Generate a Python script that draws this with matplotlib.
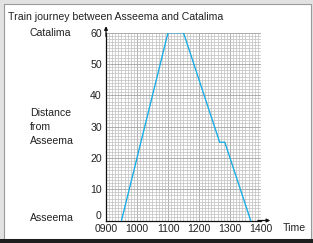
import matplotlib
matplotlib.use("Agg")
import matplotlib.pyplot as plt
import numpy as np
from matplotlib.patches import Rectangle

plt.rcParams['font.family'] = ['Liberation Sans', 'DejaVu Sans']

# Data (time in decimal hours, distance in km from Asseema)
times = [9.5, 11.0, 11.5, 12 + 40/60, 12 + 50/60, 13 + 40/60]
distance = [0, 60, 60, 25, 25, 0]
x_ticks = [9, 10, 11, 12, 13, 14]
x_labels = ["0900", "1000", "1100", "1200", "1300", "1400"]
y_ticks = [0, 10, 20, 30, 40, 50, 60]

W, H = 313, 243
FS = 7.6
fig = plt.figure(figsize=(W/100, H/100), dpi=100)
fig.patch.set_facecolor('#e2e2e2')

def px(x0, y0, w, h):
    return (x0/W, 1 - (y0+h)/H, w/W, h/H)

# white panel
x0, y0, w, h = px(3.5, 4.5, 307, 234)
fig.patches.append(Rectangle((x0, y0), w, h, transform=fig.transFigure,
                             facecolor='white', edgecolor='#9a9a9a', linewidth=0.8, zorder=-5))
# dark bottom bar
x0, y0, w, h = px(0, 239, 313, 4)
fig.patches.append(Rectangle((x0, y0), w, h, transform=fig.transFigure,
                             facecolor='#1e1e1e', edgecolor='none', zorder=-5))

ax = fig.add_axes(px(106, 32.7, 155, 187.8))
ax.set_zorder(5)
ax.set_xlim(9, 14)
ax.set_ylim(0, 60)
ax.set_facecolor('white')

ax.set_xticks(x_ticks)
ax.set_xticklabels(x_labels)
ax.set_yticks(y_ticks)
ax.set_xticks(np.arange(9, 14.001, 0.1), minor=True)
ax.set_yticks(np.arange(0, 60.001, 1), minor=True)
ax.grid(which='minor', color='#c3c3c3', linewidth=0.55)
ax.grid(which='major', color='#a8a8a8', linewidth=0.65)
ax.set_axisbelow(True)
ax.tick_params(which='both', length=0)
ax.tick_params(axis='x', labelsize=FS, pad=2.5, colors='#222222')
ax.tick_params(axis='y', labelsize=FS, pad=3, colors='#222222')
ax.get_yticklabels()[0].set_va('bottom')

for s in ['top', 'right']:
    ax.spines[s].set_visible(False)
for s in ['left', 'bottom']:
    ax.spines[s].set_color('#111111')
    ax.spines[s].set_linewidth(0.9)

ax.plot(times, distance, color='#1aaee6', linewidth=1.0, zorder=3)

# arrows on axes
ax.annotate('', xy=(1.06, 0), xytext=(0.98, 0), xycoords='axes fraction',
            arrowprops=dict(arrowstyle='-|>', color='#111111', lw=0.9,
                            mutation_scale=5, shrinkA=0, shrinkB=0), annotation_clip=False)
ax.annotate('', xy=(0, 1.035), xytext=(0, 0.98), xycoords='axes fraction',
            arrowprops=dict(arrowstyle='-|>', color='#111111', lw=0.9,
                            mutation_scale=5, shrinkA=0, shrinkB=0), annotation_clip=False)

def ftext(xp, yp, s, **kw):
    fig.text(xp/W, 1 - yp/H, s, fontsize=FS, color='#222222', **kw)

ftext(8, 17, "Train journey between Asseema and Catalima", ha='left', va='center')
ftext(30, 33, "Catalima", ha='left', va='center')
ftext(30, 127, "Distance\nfrom\nAsseema", ha='left', va='center', linespacing=1.5)
ftext(30, 218, "Asseema", ha='left', va='center')
ftext(283, 228, "Time", ha='left', va='center')

fig.savefig('out.png', dpi=100, facecolor=fig.get_facecolor())
